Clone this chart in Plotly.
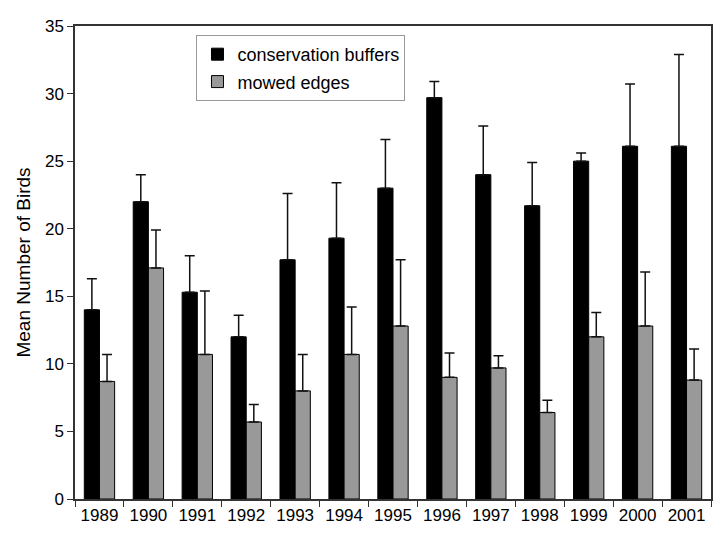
import plotly.graph_objects as go

years = ["1989", "1990", "1991", "1992", "1993", "1994", "1995", "1996", "1997", "1998", "1999", "2000", "2001"]
buffers_mean = [14.0, 22.0, 15.3, 12.0, 17.7, 19.3, 23.0, 29.7, 24.0, 21.7, 25.0, 26.1, 26.1]
buffers_upper = [16.3, 24.0, 18.0, 13.6, 22.6, 23.4, 26.6, 30.9, 27.6, 24.9, 25.6, 30.7, 32.9]
mowed_mean = [8.7, 17.1, 10.7, 5.7, 8.0, 10.7, 12.8, 9.0, 9.7, 6.4, 12.0, 12.8, 8.8]
mowed_upper = [10.7, 19.9, 15.4, 7.0, 10.7, 14.2, 17.7, 10.8, 10.6, 7.3, 13.8, 16.8, 11.1]

buffers_err = [u - m for u, m in zip(buffers_upper, buffers_mean)]
mowed_err = [u - m for u, m in zip(mowed_upper, mowed_mean)]

FONT = "Liberation Sans, Arial, sans-serif"

fig = go.Figure()
fig.add_trace(go.Bar(
    x=years, y=buffers_mean, name="conservation buffers", legendgroup="a",
    marker=dict(color="#000000", line=dict(color="#000000", width=1)),
    error_y=dict(type="data", symmetric=False, array=buffers_err,
                 arrayminus=[0] * len(years), color="#111111", thickness=1.5, width=5),
))
fig.add_trace(go.Bar(
    x=years, y=mowed_mean, name="mowed edges", legendgroup="b",
    marker=dict(color="#999999", line=dict(color="#000000", width=1)),
    error_y=dict(type="data", symmetric=False, array=mowed_err,
                 arrayminus=[0] * len(years), color="#111111", thickness=1.5, width=5),
))

fig.update_layout(
    width=714, height=527,
    margin=dict(l=67, r=9, t=9, b=36),
    paper_bgcolor="white", plot_bgcolor="white",
    font=dict(family=FONT, size=17, color="#000000"),
    barmode="group", bargap=0.38, bargroupgap=0,
    showlegend=True,
    legend=dict(
        x=0.191, y=0.981, xanchor="left", yanchor="top",
        bgcolor="white", bordercolor="#999999", borderwidth=1,
        font=dict(family=FONT, size=18), traceorder="grouped", tracegroupgap=1,
        itemwidth=30,
    ),
    xaxis=dict(
        type="category", showline=True, linecolor="#333333", linewidth=1.5, mirror=True,
        ticks="outside", tickson="boundaries", ticklen=6, tickcolor="#333333",
        showgrid=False, tickfont=dict(size=17),
    ),
    yaxis=dict(
        range=[0, 35], dtick=5, showline=True, linecolor="#333333", linewidth=1.5, mirror=True,
        ticks="outside", ticklen=6, tickcolor="#333333", showgrid=False, zeroline=False,
        title=dict(text="Mean Number of Birds", font=dict(size=19), standoff=9),
        tickfont=dict(size=17),
    ),
)

fig.write_html("out.html")
